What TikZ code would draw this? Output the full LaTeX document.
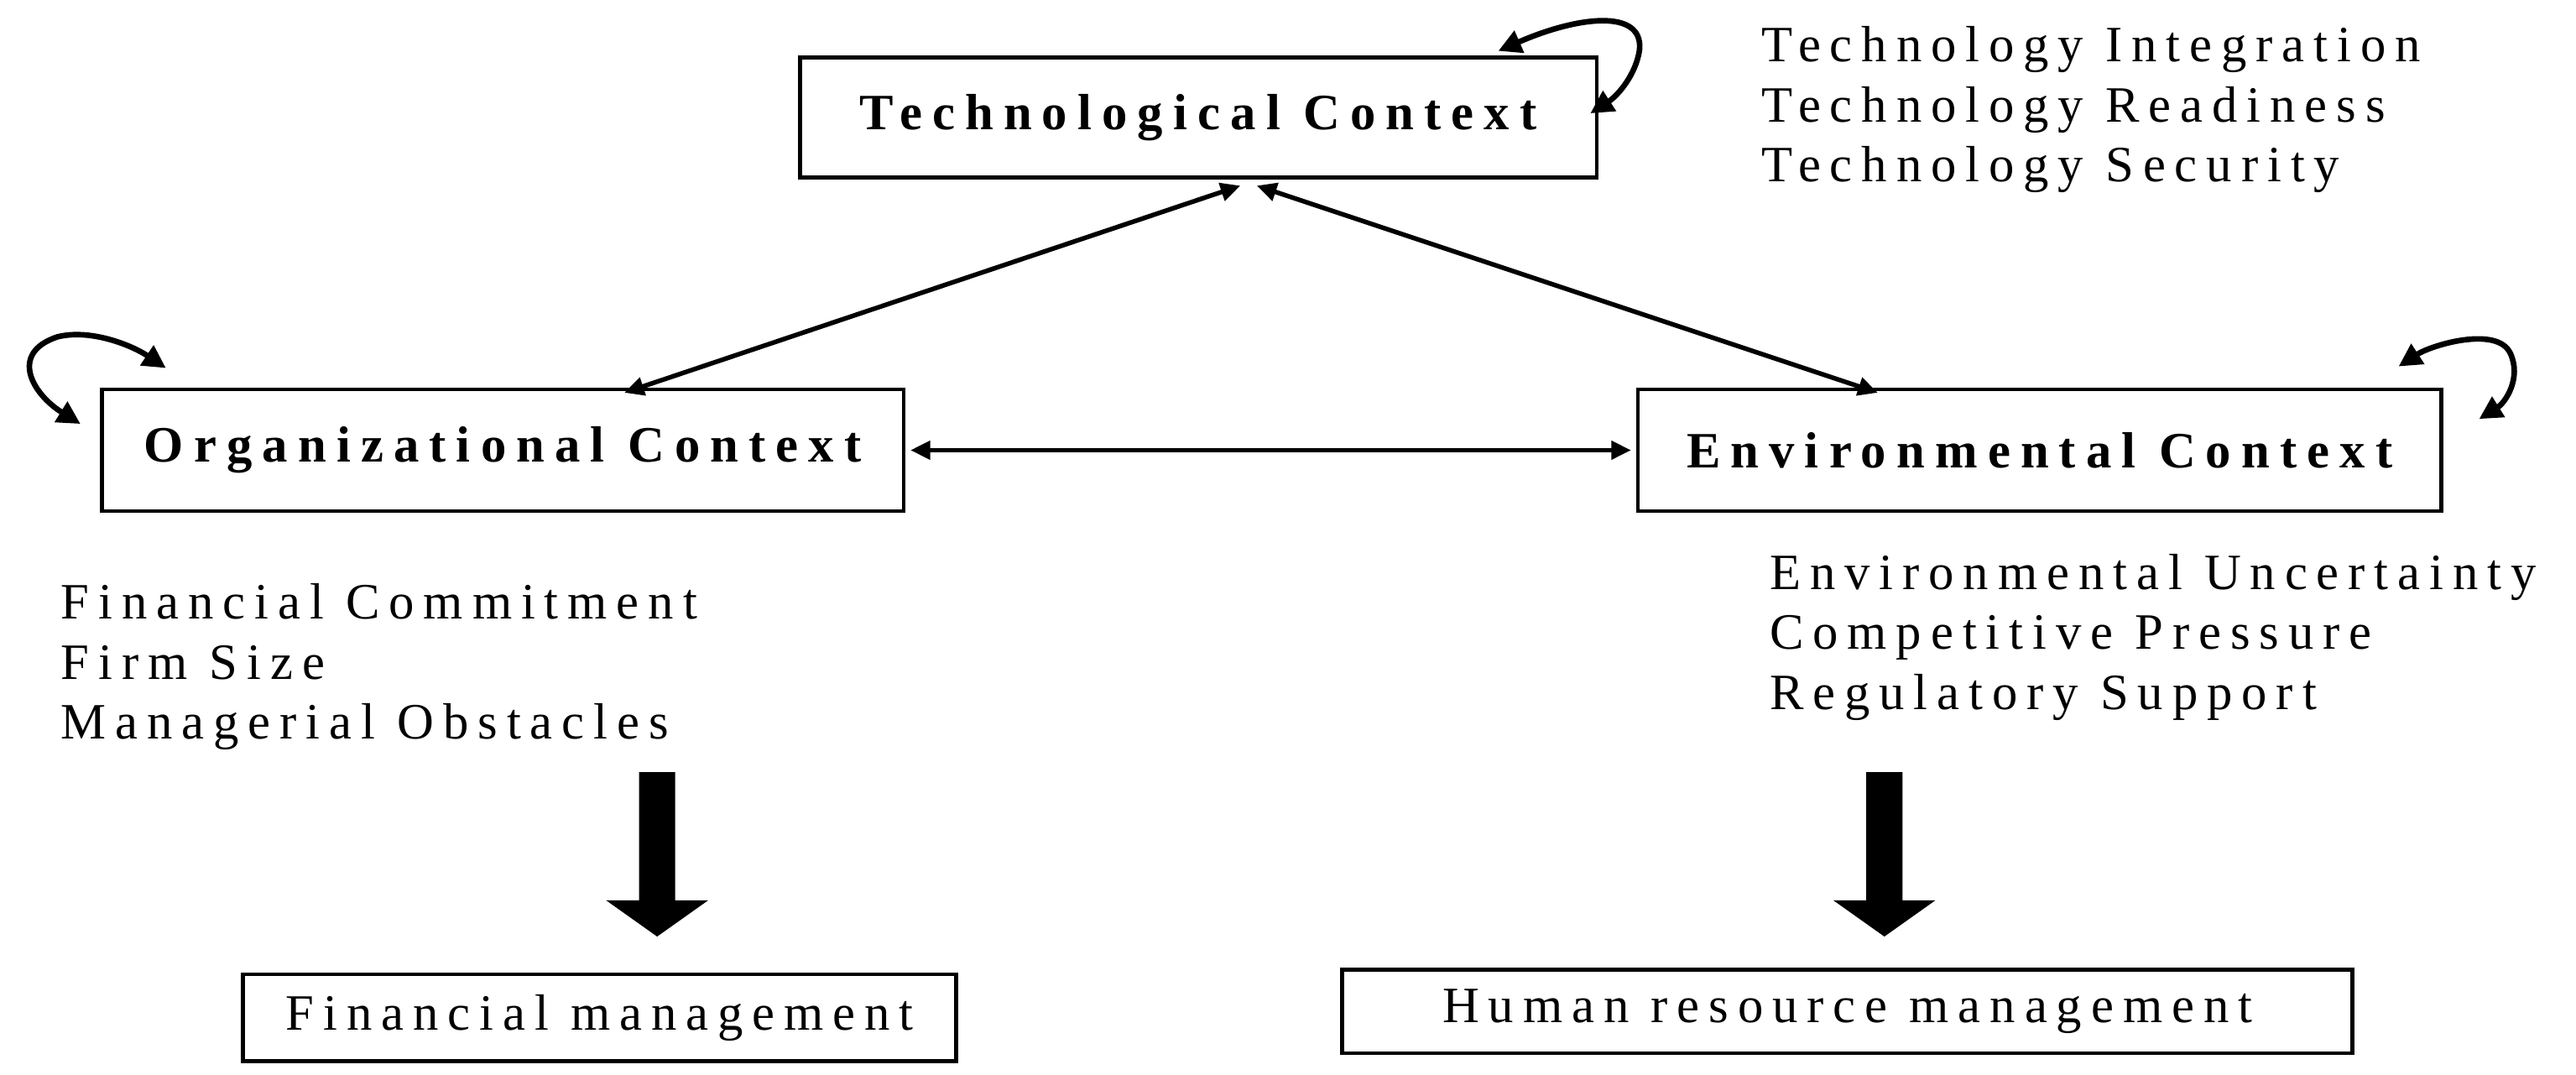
\documentclass[tikz,border=0pt]{standalone}
\usepackage{fontspec}
\setmainfont{Liberation Serif}
\newfontfamily\spaced[LetterSpace=18]{Liberation Serif}
\newfontfamily\spacedb[LetterSpace=20]{Liberation Serif}
\usetikzlibrary{arrows.meta,calc}
\begin{document}
\begin{tikzpicture}[x=1pt,y=-1pt,
  box/.style={draw,line width=2.4pt,inner sep=0pt},
  ttl/.style={font=\spacedb\fontsize{31}{32}\selectfont\bfseries},
  lst/.style={font=\spaced\fontsize{31}{36.5}\selectfont,align=left,anchor=north west,inner sep=0pt},
  con/.style={line width=2.8pt,{Triangle[length=12pt,width=11pt]}-{Triangle[length=12pt,width=11pt]}},
  loop/.style={line width=3.4pt,{Triangle[length=14pt,width=14pt]}-{Triangle[length=14pt,width=14pt]}},
  big/.style={fill=black}]
\useasboundingbox (0,0) rectangle (1568,654);
\node[box,minimum width=485pt,minimum height=73pt] (tech) at (729.5,71.5) {};
\node[ttl] at (tech) {Technological\ Context};
\node[box,minimum width=488pt,minimum height=74pt] (org) at (306,274) {};
\node[ttl] at (org) {Organizational\ Context};
\node[box,minimum width=489pt,minimum height=74pt] (env) at (1241.5,274) {};
\node[ttl] at (env) {Environmental\ Context};
\node[box,minimum width=434pt,minimum height=53pt,font=\spaced\fontsize{31}{32}\selectfont] (fin) at (365,619.5) {Financial management};
\node[box,minimum width=615pt,minimum height=51pt,font=\spaced\fontsize{31}{32}\selectfont] (hrm) at (1124.5,615.5) {Human resource management};
\node[lst] (tl) at (1072,16) {Technology Integration\\Technology Readiness\\Technology Security};
\node[lst] (ol) at (37,355) {Financial Commitment\\Firm Size\\Managerial Obstacles};
\node[lst] (el) at (1077,337) {Environmental Uncertainty\\Competitive Pressure\\Regulatory Support};
\coordinate (t1) at (755,113);
\coordinate (t2) at (765,113);
\coordinate (o1) at (380,239);
\coordinate (e1) at (1143,239);
\draw[con] (t1) -- (o1);
\draw[con] (t2) -- (e1);
\draw[con] ($(org.east)+(3,0)$) -- ($(env.west)+(-3,0)$);
\draw[loop] (912,31) .. controls (960,10) and (1000,5) .. (998,30) .. controls (996,45) and (985,58) .. (968,69);
\draw[loop] (49,258) .. controls (20,240) and (5,215) .. (35,205) .. controls (55,200) and (80,210) .. (101,224);
\draw[loop] (1460,223) .. controls (1480,210) and (1520,198) .. (1528,215) .. controls (1535,230) and (1525,245) .. (1509,255);
\fill[big] (389,470) -- (411,470) -- (411,548) -- (431,548) -- (400,570) -- (369,548) -- (389,548) -- cycle;
\fill[big] (1136,470) -- (1158,470) -- (1158,548) -- (1178,548) -- (1147,570) -- (1116,548) -- (1136,548) -- cycle;
\end{tikzpicture}
\end{document}
